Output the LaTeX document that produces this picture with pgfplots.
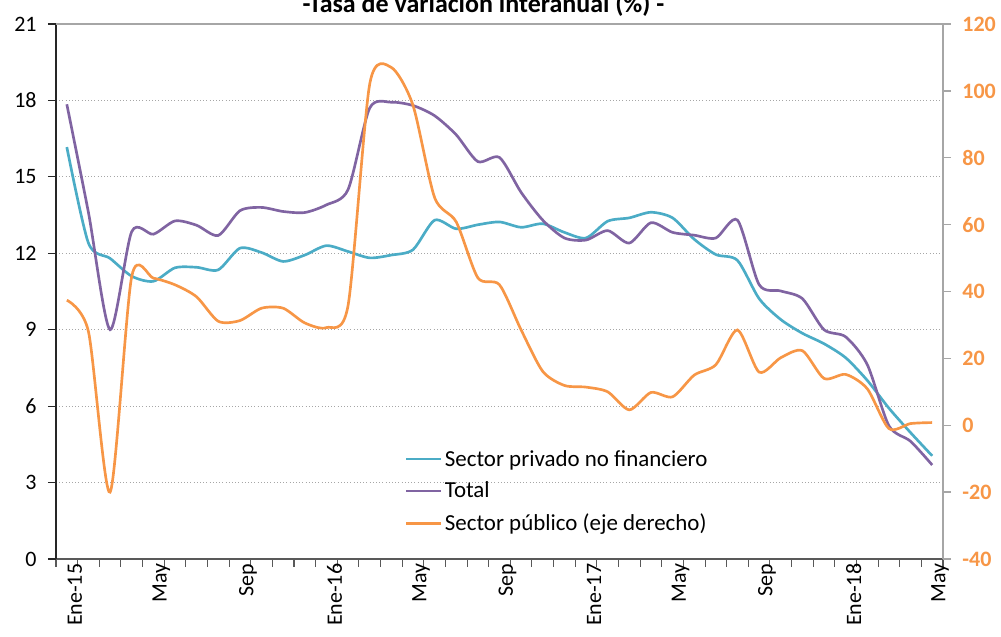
\documentclass[border=0pt]{standalone}
\usepackage{fontspec}
\setmainfont{Carlito}
\usepackage{pgfplots}
\pgfplotsset{compat=1.18}

\definecolor{privado}{HTML}{4BACC6}
\definecolor{total}{HTML}{8064A2}
\definecolor{publico}{HTML}{F79646}
\definecolor{axisgray}{HTML}{A6A6A6}
\newcommand\fs{\fontsize{16.5}{19.8}\selectfont}
\newcommand\fl{\fontsize{17.2}{20.6}\selectfont}

% meses: 0 = Ene-15 ... 40 = May-18
\pgfplotstableread{
i privado total
0 16.17 17.85
1 12.40 13.60
2 11.80 9.00
3 11.10 12.85
4 10.90 12.75
5 11.43 13.27
6 11.45 13.10
7 11.35 12.70
8 12.20 13.67
9 12.03 13.80
10 11.68 13.64
11 11.93 13.60
12 12.30 13.90
13 12.07 14.50
14 11.82 17.70
15 11.93 17.93
16 12.14 17.80
17 13.30 17.40
18 12.96 16.65
19 13.12 15.60
20 13.23 15.76
21 13.02 14.39
22 13.16 13.30
23 12.82 12.60
24 12.60 12.52
25 13.26 12.89
26 13.39 12.40
27 13.61 13.20
28 13.39 12.82
29 12.55 12.71
30 11.95 12.60
31 11.72 13.30
32 10.22 10.77
33 9.40 10.52
34 8.86 10.22
35 8.45 9.00
36 7.90 8.72
37 7.01 7.63
38 5.92 5.23
39 4.96 4.62
40 4.05 3.69
}\izq

\pgfplotstableread{
i publico
0 37.4
1 28.0
2 -20.0
3 44.5
4 44.0
5 42.0
6 38.4
7 31.1
8 31.3
9 35.0
10 35.0
11 30.6
12 29.2
13 35.8
14 102.0
15 107.0
16 95.7
17 68.1
18 60.8
19 44.1
20 42.0
21 28.5
22 16.1
23 11.9
24 11.4
25 10.0
26 4.6
27 9.8
28 8.5
29 15.0
30 18.1
31 28.5
32 15.9
33 20.2
34 22.3
35 14.0
36 15.2
37 10.9
38 -1.0
39 0.5
40 0.8
}\der

\begin{document}
\begin{tikzpicture}
\begin{axis}[
  name=ax,
  width=665.25pt, height=401.25pt, scale only axis,
  xmin=-0.5, xmax=40.5, ymin=0, ymax=21,
  ytick={0,3,...,21},
  xtick={-0.5,0.5,...,40.5}, xticklabels={},
  extra x ticks={0,4,...,40},
  extra x tick labels={Ene-15,May,Sep,Ene-16,May,Sep,Ene-17,May,Sep,Ene-18,May},
  extra x tick style={major tick length=0pt},
  axis x line*=bottom, axis y line*=left,
  x axis line style={black!65, line width=1pt, -},
  y axis line style={black!85, line width=1pt, -},
  xtick style={black!65, line width=0.8pt},
  ytick style={black!85, line width=0.8pt},
  tick align=outside, major tick length=6pt,
  ymajorgrids, grid style={dotted, black!35, line width=0.8pt},
  /pgf/number format/assume math mode=true,
  xticklabel style={rotate=90, anchor=east, font=\fs, yshift=-6pt},
  yticklabel style={font=\fs, xshift=-5pt},
  legend style={at={(0.393,0.209)}, anchor=north west, draw=none, fill=none,
    font=\fl, row sep=6.5pt, inner sep=0pt},
  legend cell align=left,
  legend image code/.code={\draw[#1] (0pt,0pt) -- (26pt,0pt);},
]
\addplot[privado, line width=2pt, smooth, tension=0.45] table[x=i, y=privado] {\izq};
\addlegendentry{Sector privado no financiero}
\addplot[total, line width=2pt, smooth, tension=0.45] table[x=i, y=total] {\izq};
\addlegendentry{Total}
\addlegendimage{publico, line width=2pt}
\addlegendentry{Sector público (eje derecho)}
\draw[axisgray, line width=1.6pt] (rel axis cs:0,1) -- (rel axis cs:1,1);
\end{axis}
\begin{axis}[
  width=665.25pt, height=401.25pt, scale only axis,
  xmin=-0.5, xmax=40.5, ymin=-40, ymax=120,
  ytick={-40,-20,...,120},
  axis x line=none, axis y line*=right,
  y axis line style={axisgray, line width=1.6pt, -},
  ytick style={axisgray, line width=1pt},
  tick align=outside, major tick length=6pt,
  /pgf/number format/assume math mode=true,
  yticklabel style={publico, font=\bfseries\fs, xshift=5pt},
]
\addplot[publico, line width=2pt, smooth, tension=0.45] table[x=i, y=publico] {\der};
\end{axis}
\node[font=\bfseries\fontsize{19.5}{23}\selectfont, anchor=base, xshift=-12pt, yshift=8.25pt] at (ax.north)
  {-Tasa de variación interanual (\%) -};
\pgfresetboundingbox
\path[use as bounding box] ([xshift=-42pt, yshift=-58.5pt]ax.south west)
  rectangle ([xshift=43.5pt, yshift=18pt]ax.north east);
\end{tikzpicture}
\end{document}
